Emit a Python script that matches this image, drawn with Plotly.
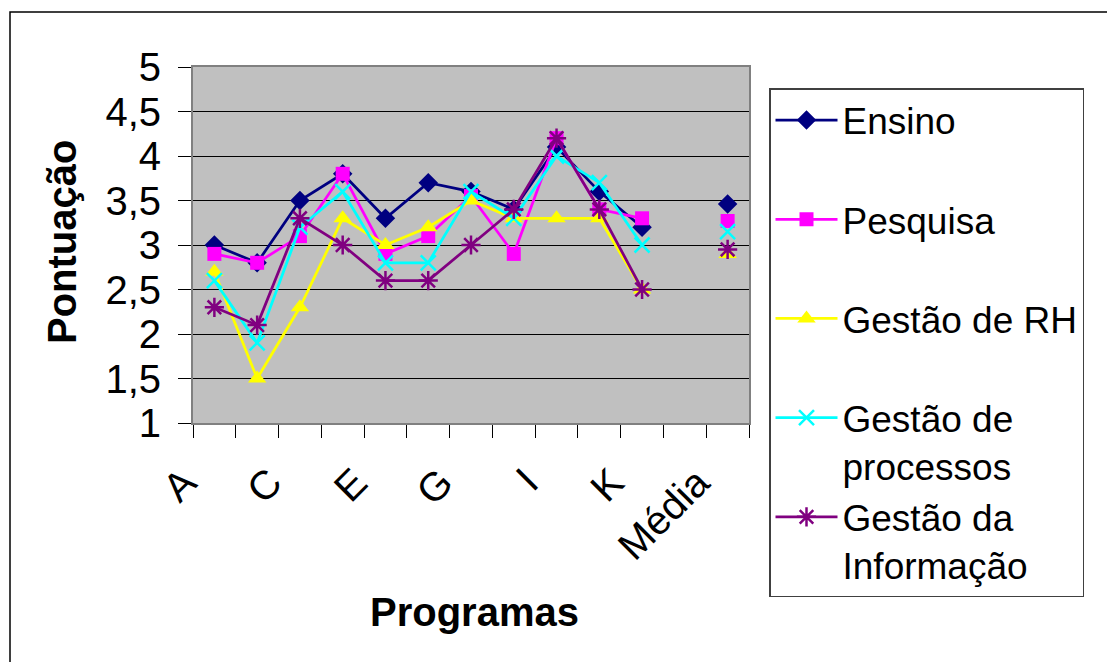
import plotly.graph_objects as go

categories = ["A", "B", "C", "D", "E", "F", "G", "H", "I", "J", "K", "L", "Média"]
tick_labels = ["A", "", "C", "", "E", "", "G", "", "I", "", "K", "", "Média"]

ensino = [3.0, 2.8, 3.5, 3.8, 3.3, 3.7, 3.6, 3.4, 4.1, 3.6, 3.2, None, 3.46]
pesquisa = [2.9, 2.8, 3.1, 3.8, 2.9, 3.1, 3.55, 2.9, 4.2, 3.4, 3.3, None, 3.27]
gestao_rh = [2.7, 1.5, 2.3, 3.3, 3.0, 3.2, 3.5, 3.3, 3.3, 3.3, 2.5, None, 2.9]
gestao_proc = [2.6, 1.9, 3.2, 3.6, 2.8, 2.8, 3.6, 3.3, 4.0, 3.7, 3.0, None, 3.15]
gestao_info = [2.3, 2.1, 3.3, 3.0, 2.6, 2.6, 3.0, 3.4, 4.2, 3.4, 2.5, None, 2.95]

y_ticks = [1, 1.5, 2, 2.5, 3, 3.5, 4, 4.5, 5]
y_tick_text = ["1", "1,5", "2", "2,5", "3", "3,5", "4", "4,5", "5"]

series = [
    ("Ensino<br> ", ensino, "#000080", "diamond", 15, 0),
    ("Pesquisa<br> ", pesquisa, "#FF00FF", "square", 14, 0),
    ("Gestão de RH<br> ", gestao_rh, "#FFFF00", "triangle-up", 16, 0),
    ("Gestão de<br>processos", gestao_proc, "#00FFFF", "x-thin-open", 15, 2.5),
    ("Gestão da<br>Informação", gestao_info, "#800080", "asterisk-open", 16, 2.5),
]

fig = go.Figure()
for i, (name, vals, color, symbol, size, lw) in enumerate(series):
    marker = dict(symbol=symbol, size=size, color=color)
    if lw:
        marker["line"] = dict(color=color, width=lw)
    fig.add_trace(go.Scatter(
        x=categories, y=vals, name=name, mode="lines+markers",
        line=dict(color=color, width=2.75), marker=marker,
        connectgaps=False, legendgroup=f"g{i}",
    ))

L, R, T, B = 193, 749, 67, 423
W, H = 1107, 662
pw, ph = R - L, B - T

def px(x):
    return (x - L) / pw

def py(y):
    return (B - y) / ph

fig.update_layout(
    width=W, height=H,
    margin=dict(l=L, r=W - R, t=T, b=H - B),
    paper_bgcolor="white",
    plot_bgcolor="#C0C0C0",
    font=dict(family="Liberation Sans, Arial, sans-serif", color="black", size=40),
    showlegend=True,
    legend=dict(
        x=px(769), y=py(88), xanchor="left", yanchor="top",
        bordercolor="#404040", borderwidth=1.5, bgcolor="white",
        font=dict(size=37), valign="top", tracegroupgap=0,
        itemwidth=62, maxheight=600,
    ),
    xaxis=dict(
        type="category", categoryorder="array", categoryarray=categories,
        range=[-0.5, 12.5],
        tickmode="array", tickvals=categories, ticktext=tick_labels,
        tickson="boundaries", ticks="outside", ticklen=13, tickcolor="black", tickwidth=1,
        tickangle=-45, tickfont=dict(size=40),
        ticklabelstandoff=18, ticklabelshift=-30,
        showgrid=False, showline=True, linecolor="#808080", linewidth=2, mirror=True,
        zeroline=False,
    ),
    yaxis=dict(
        range=[1, 5], tickmode="array", tickvals=y_ticks, ticktext=y_tick_text,
        ticks="outside", ticklen=13, tickcolor="black", tickwidth=1,
        tickfont=dict(size=40), ticklabelstandoff=9,
        showgrid=True, gridcolor="black", gridwidth=1,
        showline=True, linecolor="#808080", linewidth=2, mirror=True,
        zeroline=False,
    ),
    annotations=[
        dict(text="<b>Pontuação</b>", x=px(62), y=py(242), xref="paper", yref="paper",
             showarrow=False, textangle=-90, font=dict(size=40), xanchor="center", yanchor="middle"),
        dict(text="<b>Programas</b>", x=px(474), y=py(612), xref="paper", yref="paper",
             showarrow=False, font=dict(size=40), xanchor="center", yanchor="middle"),
    ],
    shapes=[
        dict(type="rect", xref="paper", yref="paper",
             x0=px(10), x1=px(1300), y0=py(12), y1=py(900),
             line=dict(color="black", width=1.5), fillcolor="rgba(0,0,0,0)", layer="below"),
    ],
)

fig.write_html("out.html", config={"displayModeBar": False},
               post_script="document.body.style.margin='0';")
